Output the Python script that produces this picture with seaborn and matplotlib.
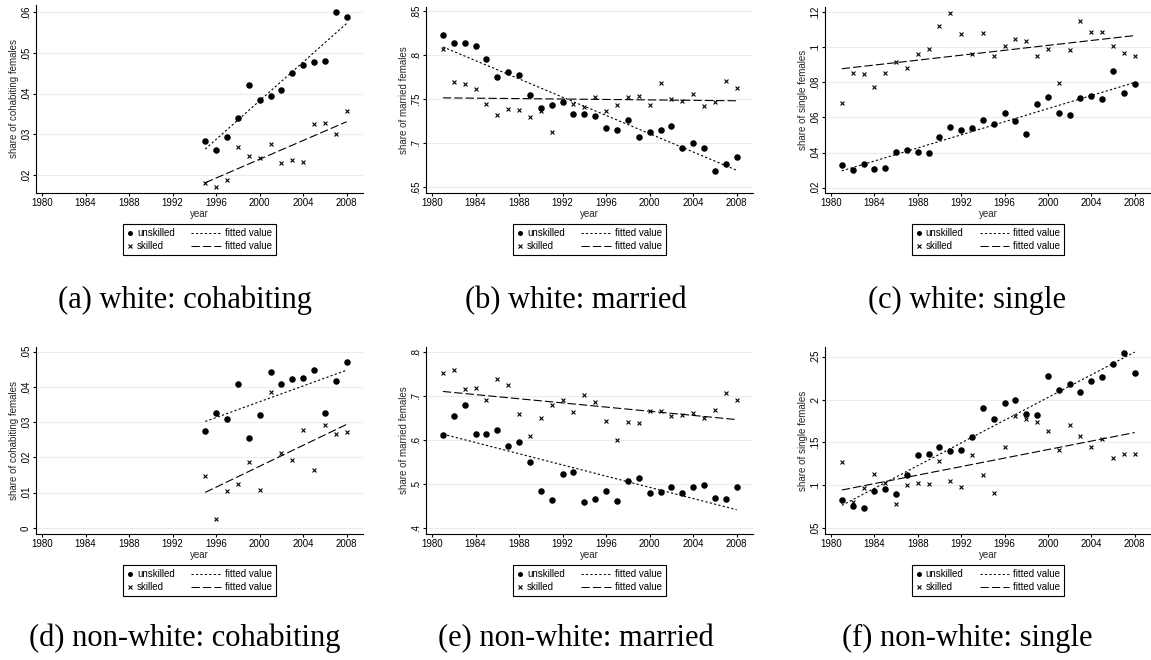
import matplotlib
matplotlib.use("Agg")
import matplotlib.pyplot as plt
import seaborn as sns
from matplotlib.lines import Line2D
from matplotlib.offsetbox import DrawingArea, TextArea, HPacker, VPacker, AnchoredOffsetbox

sns.set_style("ticks")
plt.rcParams["font.family"] = ["Liberation Sans", "DejaVu Sans"]
plt.rcParams["lines.scale_dashes"] = False

# ---------------------------------------------------------------- data
years_long = list(range(1981, 2009))
years_short = list(range(1995, 2009))

white_cohab_unskilled = [0.0283, 0.0261, 0.0294, 0.0341, 0.0421, 0.0385, 0.0394,
                         0.0409, 0.0450, 0.0470, 0.0479, 0.0480, 0.0602, 0.0588]
white_cohab_skilled = [0.0180, 0.0170, 0.0189, 0.0270, 0.0248, 0.0243, 0.0276,
                       0.0229, 0.0238, 0.0231, 0.0326, 0.0328, 0.0301, 0.0358]

white_married_unskilled = [0.8236, 0.8145, 0.8142, 0.8104, 0.7964, 0.7749, 0.7813,
                           0.7772, 0.7545, 0.7398, 0.7432, 0.7466, 0.7330, 0.7330,
                           0.7308, 0.7179, 0.7153, 0.7262, 0.7077, 0.7126, 0.7157,
                           0.7198, 0.6945, 0.7009, 0.6949, 0.6689, 0.6760, 0.6840]
white_married_skilled = [0.8077, 0.7692, 0.7677, 0.7621, 0.7447, 0.7323, 0.7394,
                         0.7375, 0.7300, 0.7364, 0.7134, 0.7470, 0.7451, 0.7417,
                         0.7523, 0.7372, 0.7432, 0.7523, 0.7534, 0.7436, 0.7689,
                         0.7500, 0.7477, 0.7557, 0.7425, 0.7474, 0.7711, 0.7632]

white_single_unskilled = [0.0330, 0.0302, 0.0336, 0.0308, 0.0310, 0.0404, 0.0414,
                          0.0402, 0.0400, 0.0489, 0.0546, 0.0531, 0.0542, 0.0584,
                          0.0561, 0.0623, 0.0578, 0.0504, 0.0678, 0.0718, 0.0625,
                          0.0614, 0.0710, 0.0724, 0.0705, 0.0862, 0.0739, 0.0788]
white_single_skilled = [0.0680, 0.0854, 0.0848, 0.0771, 0.0854, 0.0915, 0.0880,
                        0.0958, 0.0990, 0.1121, 0.1194, 0.1075, 0.0960, 0.1081,
                        0.0949, 0.1009, 0.1047, 0.1036, 0.0952, 0.0990, 0.0797,
                        0.0985, 0.1151, 0.1083, 0.1087, 0.1009, 0.0967, 0.0950]

nonwhite_cohab_unskilled = [0.0274, 0.0327, 0.0309, 0.0408, 0.0254, 0.0319, 0.0441,
                            0.0407, 0.0421, 0.0424, 0.0448, 0.0327, 0.0416, 0.0470]
nonwhite_cohab_skilled = [0.0148, 0.0026, 0.0105, 0.0125, 0.0188, 0.0107, 0.0386,
                          0.0213, 0.0192, 0.0277, 0.0164, 0.0292, 0.0267, 0.0272]

nonwhite_married_unskilled = [0.6113, 0.6551, 0.6792, 0.6128, 0.6136, 0.6219, 0.5857,
                              0.5962, 0.5494, 0.4838, 0.4649, 0.5223, 0.5268, 0.4604,
                              0.4664, 0.4853, 0.4626, 0.5064, 0.5147, 0.4800, 0.4830,
                              0.4936, 0.4808, 0.4943, 0.4981, 0.4694, 0.4672, 0.4943]
nonwhite_married_skilled = [0.7525, 0.7600, 0.7170, 0.7177, 0.6921, 0.7396, 0.7245,
                            0.6596, 0.6098, 0.6491, 0.6808, 0.6921, 0.6634, 0.7019,
                            0.6868, 0.6445, 0.5992, 0.6415, 0.6385, 0.6672, 0.6672,
                            0.6543, 0.6574, 0.6611, 0.6513, 0.6694, 0.7079, 0.6921]

nonwhite_single_unskilled = [0.0830, 0.0752, 0.0733, 0.0927, 0.0958, 0.0892, 0.1121,
                             0.1347, 0.1366, 0.1451, 0.1401, 0.1409, 0.1560, 0.1902,
                             0.1770, 0.1956, 0.1995, 0.1836, 0.1824, 0.2279, 0.2116,
                             0.2182, 0.2084, 0.2216, 0.2263, 0.2418, 0.2547, 0.2310]
nonwhite_single_skilled = [0.1269, 0.0800, 0.0970, 0.1125, 0.1020, 0.0777, 0.1005,
                           0.1024, 0.1016, 0.1288, 0.1044, 0.0977, 0.1358, 0.1113,
                           0.0908, 0.1440, 0.1805, 0.1770, 0.1742, 0.1630, 0.1416,
                           0.1704, 0.1576, 0.1440, 0.1541, 0.1319, 0.1366, 0.1366]

year_ticks = [1980, 1984, 1988, 1992, 1996, 2000, 2004, 2008]

captions = ["(a) white: cohabiting", "(b) white: married", "(c) white: single",
            "(d) non-white: cohabiting", "(e) non-white: married", "(f) non-white: single"]
ylabels = ["share of cohabiting females", "share of married females",
           "share of single females"]
legend_labels = ["unskilled", "skilled", "fitted value", "fitted value"]

# ---------------------------------------------------------------- layout (pixels)
W, H = 1151, 660
TXT = 7.0
DOTTED = (0, (1.6, 1.6))
DASHED = (0, (6.0, 2.2))

panels = [
    dict(years=years_short, u=white_cohab_unskilled, s=white_cohab_skilled,
         ylabel=ylabels[0], yticks=[0.02, 0.03, 0.04, 0.05, 0.06], ylim=(0.0156, 0.0618),
         box=(36, 5, 363, 193), cap=(185, 308)),
    dict(years=years_long, u=white_married_unskilled, s=white_married_skilled,
         ylabel=ylabels[1], yticks=[0.65, 0.70, 0.75, 0.80, 0.85], ylim=(0.6436, 0.855),
         box=(426, 7, 753, 193), cap=(576, 308)),
    dict(years=years_long, u=white_single_unskilled, s=white_single_skilled,
         ylabel=ylabels[2], yticks=[0.02, 0.04, 0.06, 0.08, 0.10, 0.12], ylim=(0.017, 0.1228),
         box=(825, 7, 1151, 193), cap=(967, 308)),
    dict(years=years_short, u=nonwhite_cohab_unskilled, s=nonwhite_cohab_skilled,
         ylabel=ylabels[0], yticks=[0.0, 0.01, 0.02, 0.03, 0.04, 0.05], ylim=(-0.0017, 0.0513),
         box=(36, 347, 363, 534), cap=(185, 646)),
    dict(years=years_long, u=nonwhite_married_unskilled, s=nonwhite_married_skilled,
         ylabel=ylabels[1], yticks=[0.4, 0.5, 0.6, 0.7, 0.8], ylim=(0.387, 0.8113),
         box=(426, 347, 753, 534), cap=(576, 646)),
    dict(years=years_long, u=nonwhite_single_unskilled, s=nonwhite_single_skilled,
         ylabel=ylabels[2], yticks=[0.05, 0.10, 0.15, 0.20, 0.25], ylim=(0.043, 0.2613),
         box=(825, 347, 1151, 534), cap=(967, 646)),
]


def stata_label(v):
    s = f"{v:g}"
    return s[1:] if s.startswith("0.") else s


def key_legend(fig, cx, top):
    """Two-column key: markers on the left, fit lines on the right."""
    def txt(s):
        return TextArea(s, textprops=dict(size=TXT, color="black"))

    def marker_key(marker, ms, mew):
        da = DrawingArea(4, 6, 0, 0)
        da.add_artist(Line2D([2], [3], marker=marker, ms=ms, mew=mew,
                             color="black", ls="none"))
        return da

    def line_key(ls):
        da = DrawingArea(21, 6, 0, 0)
        da.add_artist(Line2D([0, 21], [3, 3], ls=ls, lw=0.7, color="black"))
        return da

    col1 = VPacker(children=[
        HPacker(children=[marker_key("o", 3.6, 0), txt(legend_labels[0])], sep=3, align="center"),
        HPacker(children=[marker_key("x", 2.4, 0.8), txt(legend_labels[1])], sep=3, align="center"),
    ], sep=2.2, align="left", pad=0)
    col2 = VPacker(children=[
        HPacker(children=[line_key(DOTTED), txt(legend_labels[2])], sep=3, align="center"),
        HPacker(children=[line_key(DASHED), txt(legend_labels[3])], sep=3, align="center"),
    ], sep=2.2, align="left", pad=0)
    body = HPacker(children=[col1, col2], sep=12, align="top", pad=0)
    box = AnchoredOffsetbox(loc="upper center", child=body, pad=0.4, borderpad=0,
                            frameon=True, prop=dict(size=TXT),
                            bbox_to_anchor=(cx / W, 1 - top / H),
                            bbox_transform=fig.transFigure)
    box.patch.set_boxstyle("square", pad=0)
    box.patch.set_edgecolor("black")
    box.patch.set_linewidth(0.8)
    fig.add_artist(box)


fig = plt.figure(figsize=(W / 100, H / 100), dpi=100)
fig.patch.set_facecolor("white")

for i, p in enumerate(panels):
    x0, y0, x1, y1 = p["box"]
    ax = fig.add_axes([x0 / W, 1 - y1 / H, (x1 - x0) / W, (y1 - y0) / H])
    ax.set_facecolor("white")

    sns.regplot(x=p["years"], y=p["u"], ax=ax, ci=None, color="black", marker="o",
                truncate=True,
                scatter_kws=dict(s=22, linewidths=0, alpha=1, zorder=3),
                line_kws=dict(linestyle=DOTTED, linewidth=0.8, zorder=2))
    sns.regplot(x=p["years"], y=p["s"], ax=ax, ci=None, color="black", marker="x",
                truncate=True,
                scatter_kws=dict(s=8, linewidths=0.8, alpha=1, zorder=3),
                line_kws=dict(linestyle=DASHED, linewidth=0.8, zorder=2))

    ax.set_xlim(1979.45, 2009.5)
    ax.set_ylim(*p["ylim"])
    ax.set_xticks(year_ticks)
    ax.set_xticklabels([str(t) for t in year_ticks])
    ax.set_yticks(p["yticks"])
    ax.set_yticklabels([stata_label(v) for v in p["yticks"]], rotation=90, va="center")
    ax.tick_params(axis="both", direction="out", length=2.4, width=0.8, pad=1.2,
                   labelsize=TXT, colors="black")
    ax.yaxis.grid(True, color="#e4eef0", linewidth=0.8)
    ax.xaxis.grid(False)
    ax.set_axisbelow(True)
    for side in ("top", "right"):
        ax.spines[side].set_visible(False)
    for side in ("left", "bottom"):
        ax.spines[side].set_color("black")
        ax.spines[side].set_linewidth(0.8)
    ax.set_xlabel("year", fontsize=TXT, labelpad=1)
    ax.set_ylabel(p["ylabel"], fontsize=TXT, labelpad=1.5)

    key_legend(fig, (x0 + x1) / 2, y1 + 31)

    cx, cy = p["cap"]
    fig.text(cx / W, 1 - cy / H, captions[i], ha="center", va="baseline",
             family=["Liberation Serif", "DejaVu Serif"], size=22, color="black")

fig.savefig("out.png", dpi=100, facecolor="white")
